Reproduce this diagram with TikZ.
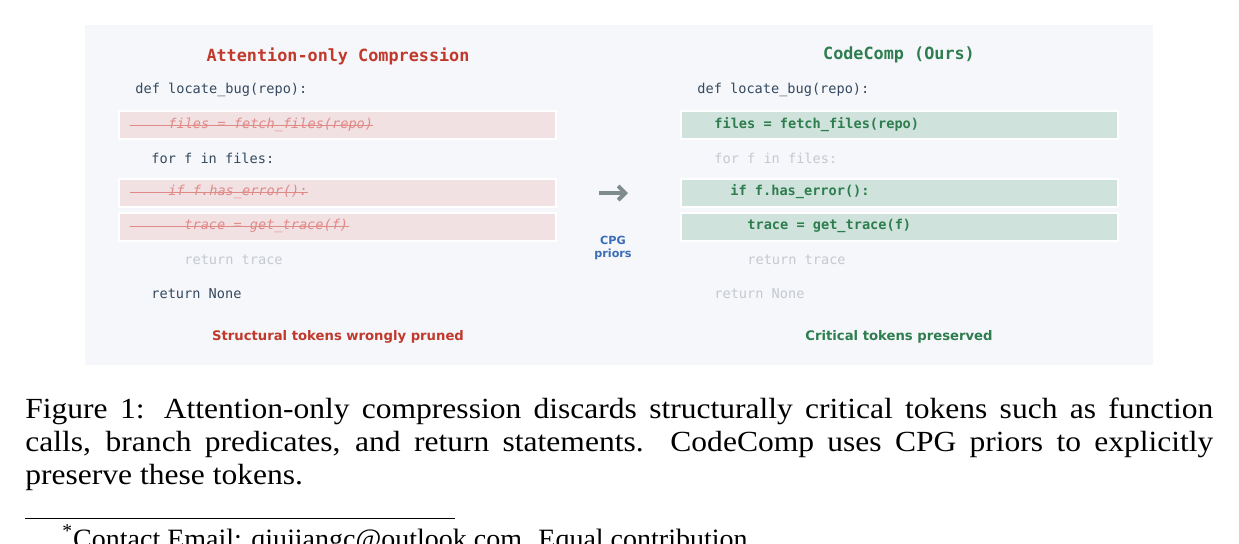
\documentclass[tikz,border=0pt]{standalone}
\usepackage{fontspec}
\setmainfont{Liberation Serif}
\newfontfamily\capfont[FakeStretch=1.08]{Liberation Serif}
\newfontfamily\codefont{DejaVu Sans Mono}
\newfontfamily\labelfont{DejaVu Sans}
\usetikzlibrary{calc,arrows.meta}
\definecolor{panelbg}{HTML}{F6F7FB}
\definecolor{dropred}{HTML}{C0392B}
\definecolor{dropfill}{HTML}{F1E1E3}
\definecolor{dropline}{HTML}{E08A88}
\definecolor{keepgreen}{HTML}{2E7D4F}
\definecolor{keepfill}{HTML}{CFE3DC}
\definecolor{codedark}{HTML}{34495E}
\definecolor{codefaint}{HTML}{C5C9CF}
\definecolor{arrowgray}{HTML}{7F8C8D}
\definecolor{priorblue}{HTML}{3A6DB5}
\tikzset{
    code/.style={anchor=west, inner sep=0pt, font=\codefont\fontsize{6.8pt}{8pt}\selectfont, text=codedark},
    faint/.style={code, text=codefaint},
    dropped/.style={code, text=dropline, font=\codefont\itshape\fontsize{6.8pt}{8pt}\selectfont},
    kept/.style={code, text=keepgreen, font=\codefont\bfseries\fontsize{6.8pt}{8pt}\selectfont},
    dropbox/.style={fill=dropfill, draw=white, line width=0.6pt},
    keepbox/.style={fill=keepfill, draw=white, line width=0.6pt},
    head/.style={font=\codefont\bfseries\fontsize{8.4pt}{10pt}\selectfont},
    foot/.style={font=\labelfont\bfseries\fontsize{6.6pt}{8pt}\selectfont},
}
\begin{document}
\begin{tikzpicture}[x=0.5pt, y=-0.5pt]
    \useasboundingbox (0,0) rectangle (1239,543);
    \clip (0,0) rectangle (1239,543);
    \fill[panelbg] (85,25) rectangle (1153,365);

    % left: attention-only
    \node[head, text=dropred] (lhead) at (338,56) {Attention-only Compression};
    \fill[dropbox] (119,111) rectangle (556,139);
    \fill[dropbox] (119,179) rectangle (556,207);
    \fill[dropbox] (119,213) rectangle (556,241);
    \node[code] (l1) at (135,90) {def locate\_bug(repo):};
    \node[dropped] (l2) at (168,125) {files = fetch\_files(repo)};
    \node[code] (l3) at (151,158) {for f in files:};
    \node[dropped] (l4) at (168,192) {if f.has\_error():};
    \node[dropped] (l5) at (184,226) {trace = get\_trace(f)};
    \node[faint] (l6) at (184,260) {return trace};
    \node[code] (l7) at (151,294) {return None};
    \foreach \n in {l2,l4,l5}
        \draw[dropline, line width=0.5pt] (130,0 |- \n.west) -- (\n.east);
    \node[foot, text=dropred] (lfoot) at (338,337) {Structural tokens wrongly pruned};

    % middle
    \coordinate (arrL) at (599,193);
    \coordinate (arrR) at (628,193);
    \draw[arrowgray, line width=2pt, -{Straight Barb[length=3.5pt,width=7pt]}] (arrL) -- (arrR);
    \node[foot, text=priorblue, align=center, font=\labelfont\bfseries\fontsize{5.6pt}{6.2pt}\selectfont] (prior) at (613,248) {CPG\\priors};

    % right: codecomp
    \node[head, text=keepgreen] (rhead) at (899,55) {CodeComp (Ours)};
    \fill[keepbox] (681,111) rectangle (1118,139);
    \fill[keepbox] (681,179) rectangle (1118,207);
    \fill[keepbox] (681,213) rectangle (1118,241);
    \node[code] (r1) at (697,90) {def locate\_bug(repo):};
    \node[kept] (r2) at (714,125) {files = fetch\_files(repo)};
    \node[faint] (r3) at (714,158) {for f in files:};
    \node[kept] (r4) at (730,192) {if f.has\_error():};
    \node[kept] (r5) at (747,226) {trace = get\_trace(f)};
    \node[faint] (r6) at (747,260) {return trace};
    \node[faint] (r7) at (714,294) {return None};
    \node[foot, text=keepgreen] (rfoot) at (899,337) {Critical tokens preserved};

    % caption
    \begin{scope}[every node/.style={anchor=base west, inner sep=0pt, font=\capfont\fontsize{14.6pt}{16.5pt}\selectfont}]
        \node (cap1) at (25,418) {\makebox[594pt][s]{Figure 1: Attention-only compression discards structurally critical tokens such as function}};
        \node (cap2) at (25,451) {\makebox[594pt][s]{calls, branch predicates, and return statements. CodeComp uses CPG priors to explicitly}};
        \node (cap3) at (25,484) {preserve these tokens.};
        \node[font=\fontsize{14pt}{16pt}\selectfont] (note) at (62,548) {\textsuperscript{*}Contact Email: qiujiangc@outlook.com. Equal contribution.};
    \end{scope}
    \draw[line width=0.5pt] (25,518) -- (455,518);
\end{tikzpicture}
\end{document}
